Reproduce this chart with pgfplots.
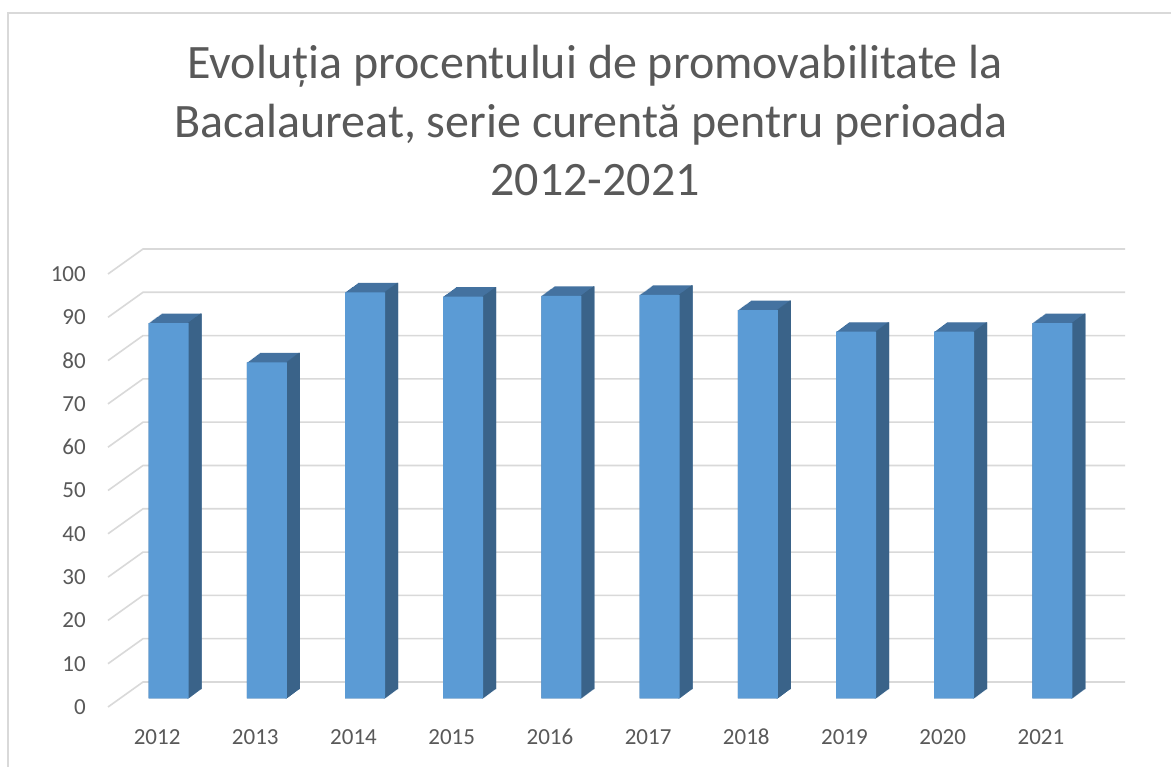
\documentclass[border=0pt]{standalone}
\usepackage{pgfplots}
\pgfplotsset{compat=1.18}
\usepackage{pgfplotstable}
\usepackage{fontspec}
\setmainfont{Carlito}
\definecolor{front}{HTML}{5B9BD5}
\definecolor{topc}{HTML}{4472A0}
\definecolor{sidec}{HTML}{3A6389}
\definecolor{gridc}{HTML}{D9D9D9}
\definecolor{txt}{HTML}{595959}
\definecolor{framec}{HTML}{D9D9D9}

\pgfplotstableread{
x y
0 86.7
1 77.6
2 93.8
3 92.8
4 93.0
5 93.2
6 89.7
7 84.7
8 84.7
9 86.7
}\datatable

\begin{document}
\begin{tikzpicture}
\useasboundingbox (0,0) rectangle (1171bp,767bp);
\fill[white] (0,0) rectangle (1171bp,767bp);
\draw[framec, line width=1.5bp] (8bp,-10bp) -- (8bp,754bp) -- (1190bp,754bp);
\node[anchor=base, text=txt, font=\fontsize{48bp}{56bp}\selectfont, inner sep=0pt] at (595bp,688bp) {Evoluția procentului de promovabilitate la};
\node[anchor=base, text=txt, font=\fontsize{48bp}{56bp}\selectfont, inner sep=0pt] at (591bp,629.5bp) {Bacalaureat, serie curentă pentru perioada};
\node[anchor=base, text=txt, font=\fontsize{48bp}{56bp}\selectfont, inner sep=0pt] at (595bp,571bp) {2012-2021};
\begin{axis}[
  at={(108bp,60bp)}, anchor=south west,
  scale only axis, width=982bp, height=433bp,
  xmin=-0.5, xmax=9.5, ymin=0, ymax=100,
  clip=false,
  axis line style={draw=none},
  tick style={draw=none},
  xtick={0,...,9},
  xticklabels={2012,2013,2014,2015,2016,2017,2018,2019,2020,2021},
  ytick={0,10,...,100},
  /pgf/number format/assume math mode=true,
  xticklabel style={anchor=base, yshift=-38bp, inner sep=0pt, text=txt, font=\fontsize{23bp}{27bp}\selectfont},
  yticklabel style={anchor=east, inner sep=0pt, xshift=-22bp, text=txt, font=\fontsize{23bp}{27bp}\selectfont},
]
\pgfplotsinvokeforeach{0,10,...,100}{
  \draw[gridc, line width=1.6bp] (axis cs:-0.5,#1) -- ++(35bp,25bp) -- ++(982bp,0bp);
}
\pgfplotsinvokeforeach{0,...,13}{
  \addplot[ybar, bar width=40bp, bar shift=0pt, fill=topc, draw=none, xshift=11.5bp+#1bp, yshift=8.5bp+#1*0.73bp] table[x=x,y=y]{\datatable};
}
\pgfplotsinvokeforeach{0,...,13}{
  \addplot[ybar, bar width=1.4bp, bar shift=19.3bp, fill=sidec, draw=none, xshift=11.5bp+#1bp, yshift=8.5bp+#1*0.73bp] table[x=x,y=y]{\datatable};
}
\addplot[ybar, bar width=40bp, bar shift=0pt, fill=front, draw=none, xshift=11.5bp, yshift=8.5bp] table[x=x,y=y]{\datatable};
\end{axis}
\end{tikzpicture}
\end{document}
